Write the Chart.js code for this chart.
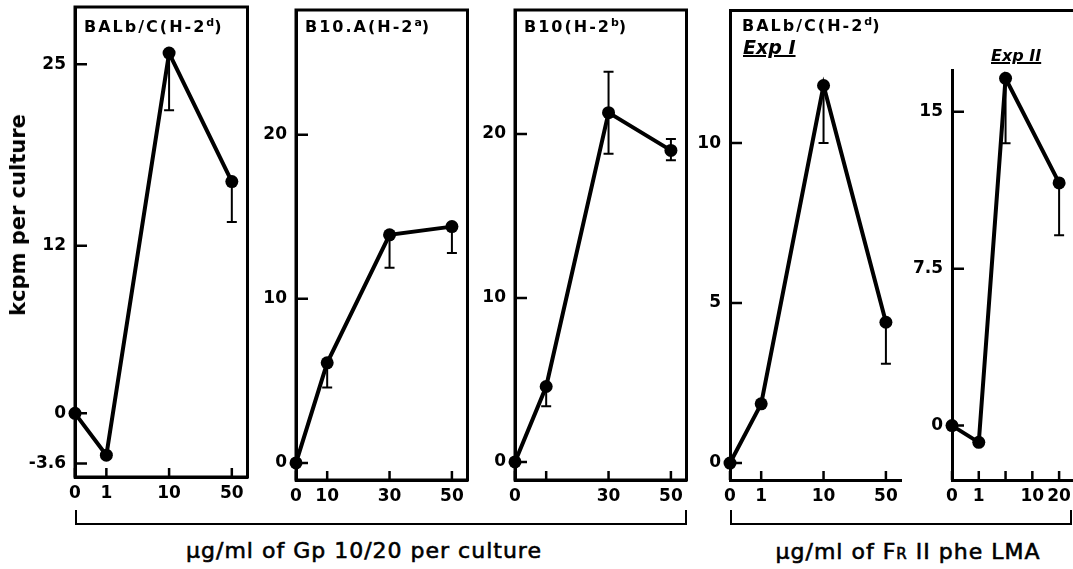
<!DOCTYPE html>
<html>
<head>
<meta charset="utf-8">
<script src="https://cdn.jsdelivr.net/npm/chart.js@4/dist/chart.umd.min.js"></script>
<style>
  html, body { margin: 0; padding: 0; background: #fff; }
  body { width: 1073px; height: 569px; position: relative; overflow: hidden; font-family: 'DejaVu Sans', sans-serif; color: #000; }
  canvas { position: absolute; }
  .txt { position: absolute; white-space: nowrap; font-weight: bold; }
  .title { font-size: 16px; letter-spacing: 2px; }
  .title sup { font-size: 11px; vertical-align: 6px; letter-spacing: 0; }
  .exp { font-style: italic; text-decoration: underline; text-decoration-thickness: 2px; }
  .foot { font-size: 22px; font-weight: normal; letter-spacing: 1px; -webkit-text-stroke: 0.6px #000; }
  .bracket { position: absolute; border: 2.5px solid #000; border-top: none; }
  .rule { position: absolute; background: #000; }
</style>
</head>
<body>

<canvas id="balb"></canvas>
<canvas id="b10a"></canvas>
<canvas id="b10"></canvas>
<canvas id="exp1"></canvas>
<canvas id="exp2"></canvas>

<div class="txt" style="left:18px; top:215px; font-size:21px; transform: translate(-50%, -50%) rotate(-90deg);">kcpm per culture</div>

<div class="txt title" style="left:84px; top:16px;">BALb/C(H-2<sup>d</sup>)</div>
<div class="txt title" style="left:305px; top:16px;">B10.A(H-2<sup>a</sup>)</div>
<div class="txt title" style="left:524px; top:16px;">B10(H-2<sup>b</sup>)</div>
<div class="txt title" style="left:742px; top:15px;">BALb/C(H-2<sup>d</sup>)</div>
<div class="txt exp" style="left:743px; top:36px; font-size:19px;">Exp I</div>
<div class="txt exp" style="left:991px; top:46px; font-size:16px;">Exp II</div>

<div class="rule" style="left:729px; top:9px; width:344px; height:2.5px;"></div>

<div class="bracket" style="left:75px; top:510px; width:608px; height:13px;"></div>
<div class="bracket" style="left:730px; top:510px; width:338px; height:13px;"></div>
<div class="txt foot" style="left:364px; top:550px; transform: translate(-50%, -50%);">μg/ml of Gp 10/20 per culture</div>
<div class="txt foot" style="left:908px; top:551px; transform: translate(-50%, -50%);">μg/ml of F<span style="font-size:15px;">R</span> II phe LMA</div>

<script>
// BALB/c, Gp 10/20
const balbDoses = ['0', '1', '10', '50'];
const balbKcpm = [0, -3.0, 25.8, 16.6];
const balbLow = [null, null, 21.7, 13.7];
const balbHigh = [null, null, null, null];
const balbAxis = ['0', '1', '', '10', '', '50'];
const balbYTicks = [-3.6, 0, 12, 25];

// B10.A, Gp 10/20
const b10aDoses = ['0', '10', '30', '50'];
const b10aKcpm = [0, 6.1, 13.9, 14.4];
const b10aLow = [null, 4.6, 11.9, 12.8];
const b10aHigh = [null, null, null, null];
const b10aAxis = ['0', '10', '', '30', '', '50'];
const b10aYTicks = [0, 10, 20];

// B10, Gp 10/20
const b10Doses = ['0', '10', '30', '50'];
const b10Kcpm = [0, 4.6, 21.3, 19.0];
const b10Low = [null, 3.4, 18.8, 18.4];
const b10High = [null, null, 23.8, 19.7];
const b10Axis = ['0', '10', '', '30', '', '50'];
const b10Hidden = ['10'];
const b10YTicks = [0, 10, 20];

// BALB/c, Fr II phe LMA, Exp I
const exp1Doses = ['0', '1', '10', '50'];
const exp1Kcpm = [0, 1.85, 11.8, 4.4];
const exp1Low = [null, null, 10.0, 3.1];
const exp1High = [null, null, null, null];
const exp1Axis = ['0', '1', '', '10', '', '50'];
const exp1YTicks = [0, 5, 10];

// BALB/c, Fr II phe LMA, Exp II
const exp2Doses = ['0', '1', '5', '20'];
const exp2Kcpm = [0, -0.8, 16.6, 11.6];
const exp2Low = [null, null, 13.5, 9.1];
const exp2High = [null, null, null, null];
const exp2Axis = ['0', '1', '5', '10', '20'];
const exp2Hidden = ['5'];
const exp2YTicks = [0, 7.5, 15];

const Y_W = 50, X_H = 32, PAD_T = 24, PAD_R = 6;

// inward tick marks + optional frame
const insideTicks = {
    id: 'insideTicks',
    afterDraw(chart, args, opts) {
        const { ctx, chartArea: a, scales: { x, y } } = chart;
        ctx.save();
        ctx.strokeStyle = '#000';
        ctx.lineWidth = 2.5;
        ctx.beginPath();
        y.ticks.forEach(t => {
            const py = y.getPixelForValue(t.value);
            ctx.moveTo(a.left, py);
            ctx.lineTo(a.left + 12, py);
        });
        x.ticks.forEach(t => {
            const px = x.getPixelForValue(t.value);
            ctx.moveTo(px, a.bottom);
            ctx.lineTo(px, a.bottom - 9);
        });
        ctx.stroke();
        if (opts.box) {
            ctx.lineWidth = 3;
            ctx.strokeRect(a.left, a.top, a.right - a.left, a.bottom - a.top);
        }
        ctx.restore();
    }
};

const errorBars = {
    id: 'errorBars',
    afterDatasetsDraw(chart) {
        const { ctx, scales: { x, y } } = chart;
        ctx.save();
        ctx.strokeStyle = '#000';
        ctx.lineWidth = 2;
        chart.data.datasets.forEach(ds => {
            ds.data.forEach((p, i) => {
                const px = x.getPixelForValue(p.x);
                const py = y.getPixelForValue(p.y);
                [ds.low[i], ds.high[i]].forEach(v => {
                    if (v === null || v === undefined) return;
                    const ey = y.getPixelForValue(v);
                    ctx.beginPath();
                    ctx.moveTo(px, py);
                    ctx.lineTo(px, ey);
                    ctx.moveTo(px - 5, ey);
                    ctx.lineTo(px + 5, ey);
                    ctx.stroke();
                });
            });
        });
        ctx.restore();
    }
};

const tickFont = { family: 'DejaVu Sans', size: 17, weight: 'bold' };

function makePanel(id, area, p) {
    const canvas = document.getElementById(id);
    canvas.width = area.right - area.left + Y_W + PAD_R;
    canvas.height = area.bottom - area.top + PAD_T + X_H;
    canvas.style.left = (area.left - Y_W) + 'px';
    canvas.style.top = (area.top - PAD_T) + 'px';

    const hidden = p.hidden || [];
    const points = p.doses.map((d, i) => ({ x: p.axis.indexOf(d), y: p.values[i] }));

    return new Chart(canvas.getContext('2d'), {
        type: 'line',
        data: {
            datasets: [{
                data: points,
                low: p.low,
                high: p.high,
                borderColor: '#000',
                borderWidth: 4,
                pointRadius: 6.5,
                pointBackgroundColor: '#000',
                pointBorderWidth: 0,
                tension: 0,
                clip: false
            }]
        },
        options: {
            responsive: false,
            animation: false,
            events: [],
            layout: { padding: { top: PAD_T, right: PAD_R, left: 0, bottom: 0 } },
            plugins: {
                legend: { display: false },
                tooltip: { enabled: false },
                insideTicks: { box: area.box }
            },
            scales: {
                x: {
                    type: 'linear',
                    min: 0,
                    max: p.axis.length - 0.5,
                    grid: { display: false, drawTicks: false },
                    border: { display: true, color: '#000', width: 3 },
                    afterBuildTicks: s => {
                        s.ticks = p.axis.map((l, i) => l ? { value: i } : null).filter(Boolean);
                    },
                    afterFit: s => { s.height = X_H; },
                    ticks: {
                        autoSkip: false,
                        maxRotation: 0,
                        padding: 6,
                        color: '#000',
                        font: tickFont,
                        callback: v => hidden.includes(p.axis[v]) ? '' : p.axis[v]
                    }
                },
                y: {
                    type: 'linear',
                    min: area.yMin,
                    max: area.yMax,
                    grid: { display: false, drawTicks: false },
                    border: { display: true, color: '#000', width: 3 },
                    afterBuildTicks: s => { s.ticks = p.yTicks.map(v => ({ value: v })); },
                    afterFit: s => { s.width = Y_W; },
                    ticks: {
                        padding: 9,
                        color: '#000',
                        font: tickFont,
                        callback: v => String(v)
                    }
                }
            }
        },
        plugins: [insideTicks, errorBars]
    });
}

makePanel('balb', { left: 75, right: 248, top: 7, bottom: 477, yMin: -4.56, yMax: 29.1, box: true },
    { doses: balbDoses, values: balbKcpm, low: balbLow, high: balbHigh, axis: balbAxis, yTicks: balbYTicks });
makePanel('b10a', { left: 296, right: 468, top: 10, bottom: 480, yMin: -1.04, yMax: 27.6, box: true },
    { doses: b10aDoses, values: b10aKcpm, low: b10aLow, high: b10aHigh, axis: b10aAxis, yTicks: b10aYTicks });
makePanel('b10', { left: 515, right: 687, top: 10, bottom: 480, yMin: -1.1, yMax: 27.56, box: true },
    { doses: b10Doses, values: b10Kcpm, low: b10Low, high: b10High, axis: b10Axis, hidden: b10Hidden, yTicks: b10YTicks });
makePanel('exp1', { left: 730, right: 902, top: 10, bottom: 480, yMin: -0.53, yMax: 14.16, box: false },
    { doses: exp1Doses, values: exp1Kcpm, low: exp1Low, high: exp1High, axis: exp1Axis, yTicks: exp1YTicks });
makePanel('exp2', { left: 952, right: 1073, top: 70, bottom: 480, yMin: -2.6, yMax: 17.0, box: false },
    { doses: exp2Doses, values: exp2Kcpm, low: exp2Low, high: exp2High, axis: exp2Axis, hidden: exp2Hidden, yTicks: exp2YTicks });
</script>
</body>
</html>
